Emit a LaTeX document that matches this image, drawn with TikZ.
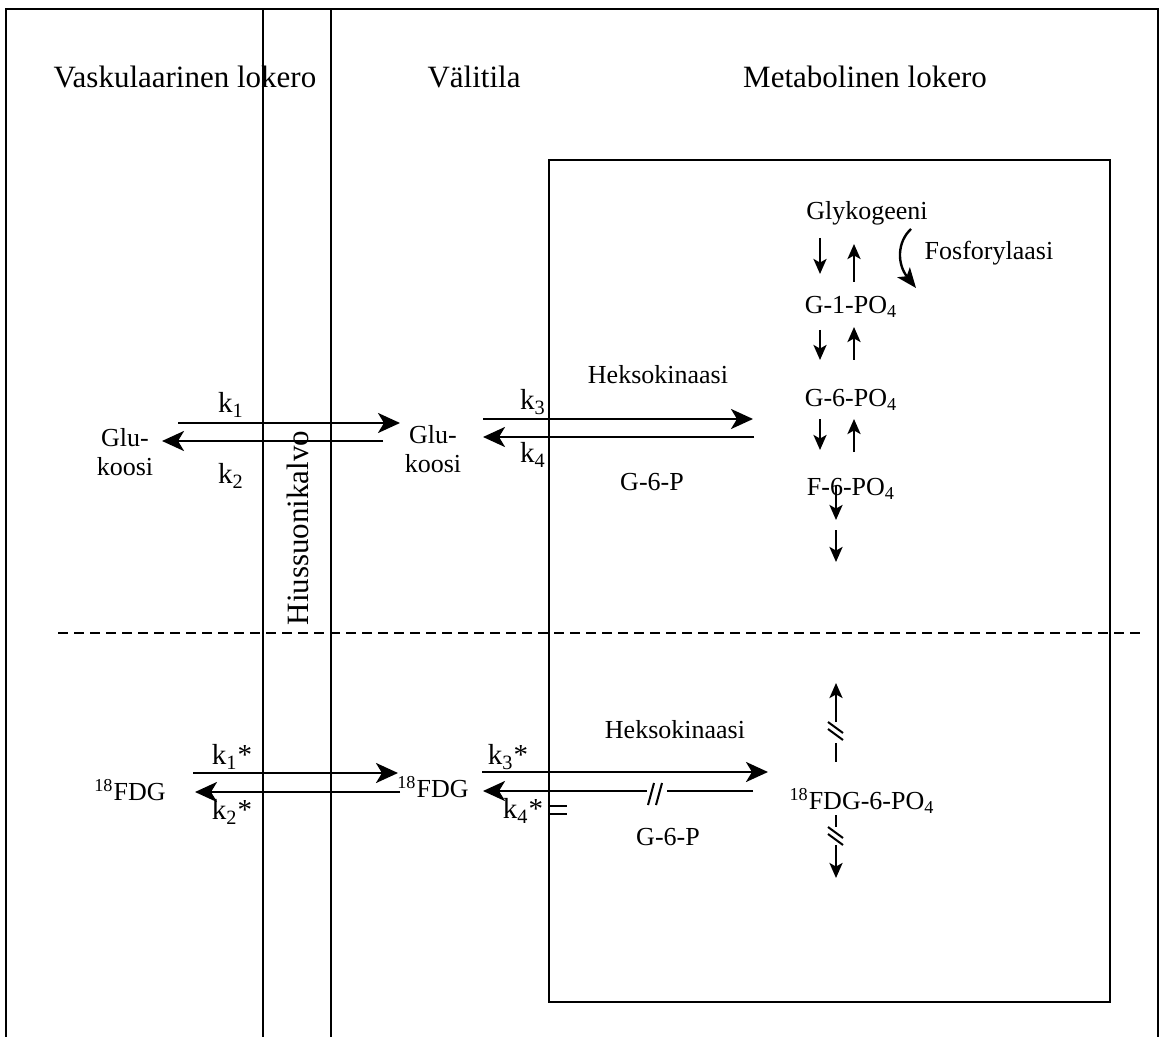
\documentclass[tikz,border=0pt]{standalone}
\usepackage{fontspec}
\setmainfont{Liberation Serif}
\usetikzlibrary{arrows.meta}

\begin{document}
\begin{tikzpicture}[x=0.5pt,y=-0.5pt,
  rule/.style={line width=1pt},
  flow/.style={line width=1.4pt,-{Stealth[length=11pt,width=10pt,inset=3pt]}},
  bare/.style={line width=1.4pt},
  stepflow/.style={line width=1.3pt,-{Stealth[length=7.5pt,width=6.5pt,inset=1.8pt]}},
  tick/.style={line width=1pt},
  lbl/.style={inner sep=0pt,font=\fontsize{13}{14.5}\selectfont},
  head/.style={inner sep=0pt,font=\fontsize{15.5}{17}\selectfont},
  rate/.style={inner sep=0pt,font=\fontsize{14.5}{16}\selectfont},
]
\useasboundingbox (0,0) rectangle (1161,1037);

% frame and compartment borders
\draw[rule] (6,1037) -- (6,9) -- (1158,9) -- (1158,1037);
\draw[rule] (263,9) -- (263,1037);
\draw[rule] (331,9) -- (331,1037);
\draw[rule] (549,160) rectangle (1110,1002);
\draw[rule,dash pattern=on 5pt off 3pt] (58,633) -- (1143,633);

% headings
\node[head] (hvas) at (185,77) {Vaskulaarinen lokero};
\node[head] (hval) at (474,77) {Välitila};
\node[head] (hmet) at (865,77) {Metabolinen lokero};
\node[head,rotate=90] (memb) at (298,528) {Hiussuonikalvo};

% ---------- glucose ----------
\node[lbl,align=center] (glu1) at (125,452) {Glu-\\koosi};
\node[lbl,align=center] (glu2) at (433,449) {Glu-\\koosi};
\node[rate] (k1) at (231,405) {k\textsubscript{1}};
\node[rate] (k2) at (231,476) {k\textsubscript{2}};
\node[rate] (k3) at (533,402) {k\textsubscript{3}};
\node[rate] (k4) at (533,455) {k\textsubscript{4}};
\node[lbl] (hex1) at (658,375) {Heksokinaasi};
\node[lbl] (g6p1) at (652,482) {G-6-P};

\coordinate (a1s) at (178,423); \coordinate (a1e) at (400,423);
\coordinate (a2s) at (383,441); \coordinate (a2e) at (162,441);
\coordinate (a3s) at (483,419); \coordinate (a3e) at (753,419);
\coordinate (a4s) at (754,437); \coordinate (a4e) at (483,437);
\draw[flow] (a1s) -- (a1e);
\draw[flow] (a2s) -- (a2e);
\draw[flow] (a3s) -- (a3e);
\draw[flow] (a4s) -- (a4e);

% glycolysis / glycogen chain
\node[lbl] (glyk) at (867,213) {Glykogeeni};
\node[lbl] (g1p) at (851,307) {G-1-PO\textsubscript{4}};
\node[lbl] (g6p) at (851,400) {G-6-PO\textsubscript{4}};
\node[lbl] (f6p) at (851,489) {F-6-PO\textsubscript{4}};
\node[lbl] (fosf) at (989,253) {Fosforylaasi};

\coordinate (c1a) at (820,238); \coordinate (c1b) at (820,274);
\coordinate (c2a) at (854,282); \coordinate (c2b) at (854,244);
\coordinate (c3a) at (820,330); \coordinate (c3b) at (820,360);
\coordinate (c4a) at (854,360); \coordinate (c4b) at (854,327);
\coordinate (c5a) at (820,419); \coordinate (c5b) at (820,450);
\coordinate (c6a) at (854,452); \coordinate (c6b) at (854,419);
\coordinate (c7a) at (836,486); \coordinate (c7b) at (836,520);
\coordinate (c8a) at (836,530); \coordinate (c8b) at (836,562);
\draw[stepflow] (c1a) -- (c1b);
\draw[stepflow] (c2a) -- (c2b);
\draw[stepflow] (c3a) -- (c3b);
\draw[stepflow] (c4a) -- (c4b);
\draw[stepflow] (c5a) -- (c5b);
\draw[stepflow] (c6a) -- (c6b);
\draw[stepflow] (c7a) -- (c7b);
\draw[stepflow] (c8a) -- (c8b);

\coordinate (fa) at (911,229); \coordinate (fb) at (916,288);
\draw[line width=1.2pt,-{Stealth[length=10pt,width=8pt,inset=2.5pt]}]
  (fa) .. controls (897,242) and (897,264) .. (fb);

% ---------- 18FDG ----------
\node[lbl] (fdg1) at (130,790) {\textsuperscript{18}FDG};
\node[lbl] (fdg2) at (433,787) {\textsuperscript{18}FDG};
\node[lbl] (fdg6p) at (862,801) {\textsuperscript{18}FDG-6-PO\textsubscript{4}};
\node[rate] (k1s) at (232,757) {k\textsubscript{1}*};
\node[rate] (k2s) at (232,812) {k\textsubscript{2}*};
\node[rate] (k3s) at (508,757) {k\textsubscript{3}*};
\node[rate] (k4s) at (523,811) {k\textsubscript{4}*};
\node[lbl] (hex2) at (675,730) {Heksokinaasi};
\node[lbl] (g6p2) at (668,837) {G-6-P};

\coordinate (b1s) at (193,773); \coordinate (b1e) at (398,773);
\coordinate (b2s) at (400,792); \coordinate (b2e) at (195,792);
\coordinate (b3s) at (482,772); \coordinate (b3e) at (768,772);
\coordinate (b4s) at (753,791); \coordinate (b4m) at (667,791);
\coordinate (b4n) at (647,791); \coordinate (b4e) at (483,791);
\draw[flow] (b1s) -- (b1e);
\draw[flow] (b2s) -- (b2e);
\draw[flow] (b3s) -- (b3e);
\draw[bare] (b4s) -- (b4m);
\draw[flow] (b4n) -- (b4e);
% interruption marks on the back reaction
\draw[tick] (648,805) -- (654,783);
\draw[tick] (656,805) -- (662,783);
\draw[tick,line width=1.3pt] (550,806) -- (567,806);
\draw[tick,line width=1.3pt] (550,814) -- (567,814);

% blocked further metabolism of FDG-6-PO4
\coordinate (u1) at (836,722); \coordinate (u2) at (836,683);
\coordinate (u3) at (836,743); \coordinate (u4) at (836,762);
\coordinate (d1) at (836,815); \coordinate (d2) at (836,827);
\coordinate (d3) at (836,845); \coordinate (d4) at (836,878);
\draw[stepflow] (u1) -- (u2);
\draw[line width=1.2pt] (u3) -- (u4);
\draw[line width=1.2pt] (d1) -- (d2);
\draw[stepflow] (d3) -- (d4);
\draw[tick] (828,722) -- (843,733);
\draw[tick] (828,729) -- (843,740);
\draw[tick] (828,827) -- (843,838);
\draw[tick] (828,834) -- (843,845);
\end{tikzpicture}
\end{document}
